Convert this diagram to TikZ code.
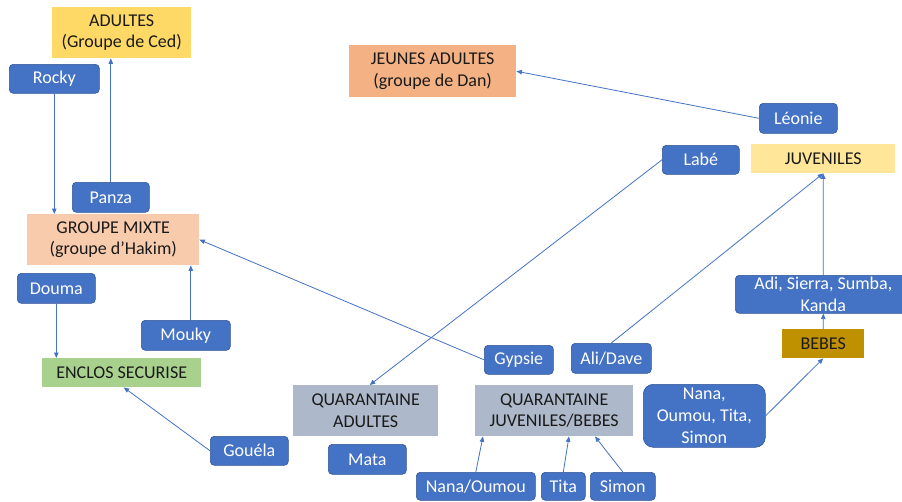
\documentclass[tikz,border=0pt]{standalone}
\usepackage{fontspec}
\setmainfont{Carlito}
\usetikzlibrary{arrows.meta,calc}
\definecolor{cblue}{HTML}{4472C4}
\definecolor{cblueedge}{HTML}{2F5597}
\definecolor{cadultes}{HTML}{FFD966}
\definecolor{cmixte}{HTML}{F8CBAD}
\definecolor{cjeunes}{HTML}{F4B183}
\definecolor{cenclos}{HTML}{A9D18E}
\definecolor{cjuv}{HTML}{FFE699}
\definecolor{cbebes}{HTML}{BF9000}
\definecolor{cquar}{HTML}{ADB9CA}
\definecolor{ctext}{HTML}{1A1A1A}
\tikzset{
  base/.style={anchor=north west, inner sep=0pt, align=center,
    font=\fontsize{18}{21.6}\selectfont},
  animal/.style={base, fill=cblue, draw=cblueedge, line width=0.6pt,
    rounded corners=4pt, text=white},
  group/.style={base, fill=#1, text=ctext},
  link/.style={draw=cblue, line width=0.8pt, -{Triangle[length=5.5pt,width=4.5pt]}}
}
\begin{document}
\begin{tikzpicture}[x=1pt,y=-1pt]
\useasboundingbox[fill=white] (0,0) rectangle (902,501);
% groups
\node[group=cadultes, minimum width=139, minimum height=51] (adultes) at (52,7) {ADULTES\\(Groupe de Ced)};
\node[group=cmixte, minimum width=172, minimum height=51] (mixte) at (27,214) {GROUPE MIXTE\\(groupe d’Hakim)};
\node[group=cenclos, minimum width=159, minimum height=29] (enclos) at (42,358) {ENCLOS SECURISE};
\node[group=cjeunes, minimum width=167, minimum height=52] (jeunes) at (349,45) {JEUNES ADULTES\\(groupe de Dan)};
\node[group=cjuv, minimum width=144, minimum height=29] (juv) at (751,144) {JUVENILES};
\node[group=cbebes, minimum width=82, minimum height=29] (bebes) at (782,329) {BEBES};
\node[group=cquar, minimum width=145, minimum height=51] (qa) at (293,385) {QUARANTAINE\\ADULTES};
\node[group=cquar, minimum width=158, minimum height=51] (qj) at (475,385) {QUARANTAINE\\JUVENILES/BEBES};
% animals
\node[animal, minimum width=90, minimum height=29] (rocky) at (9,64) {Rocky};
\node[animal, minimum width=77, minimum height=30] (panza) at (72,182) {Panza};
\node[animal, minimum width=78, minimum height=30] (douma) at (17,273) {Douma};
\node[animal, minimum width=89, minimum height=30] (mouky) at (141,320) {Mouky};
\node[animal, minimum width=78, minimum height=29] (gouela) at (210,436) {Gouéla};
\node[animal, minimum width=78, minimum height=30] (leonie) at (759,103) {Léonie};
\node[animal, minimum width=77, minimum height=29] (labe) at (662,145) {Labé};
\node[animal, minimum width=176, minimum height=38] (adi) at (735,275) {Adi, Sierra, Sumba,\\Kanda};
\node[animal, rounded corners=10pt, minimum width=122, minimum height=63] (nanabig) at (643,384) {Nana,\\Oumou, Tita,\\Simon};
\node[animal, minimum width=69, minimum height=29] (gypsie) at (484,345) {Gypsie};
\node[animal, minimum width=80, minimum height=30] (alidave) at (571,343) {Ali/Dave};
\node[animal, minimum width=78, minimum height=30] (mata) at (328,444) {Mata};
\node[animal, minimum width=119, minimum height=28] (nanaoumou) at (416,472) {Nana/Oumou};
\node[animal, minimum width=44, minimum height=28] (tita) at (541,472) {Tita};
\node[animal, minimum width=65, minimum height=28] (simon) at (590,472) {Simon};
% connectors
\draw[link] (rocky.south) -- (rocky.south |- mixte.north);
\draw[link] (panza.north) -- (panza.north |- adultes.south);
\draw[link] ([xshift=5pt]mouky.north) -- ([xshift=5pt]mouky.north |- mixte.south);
\draw[link] (douma.south) -- (douma.south |- enclos.north);
\draw[link] (gypsie.west) -- (mixte.east);
\draw[link] (gouela.west) -- ([xshift=2pt]enclos.south);
\draw[link] (leonie.west) -- (jeunes.east);
\draw[link] (labe.west) -- ([xshift=4pt]qa.north);
\draw[link] (alidave.north) -- (juv.south);
\draw[link] (adi.north) -- (juv.south);
\draw[link] (bebes.north) -- (adi.south);
\draw[link] (nanabig.east) -- (bebes.south);
\draw[link] (nanaoumou.north) -- ([xshift=8pt]qj.south west);
\draw[link] (tita.north) -- ([xshift=94pt]qj.south west);
\draw[link] (simon.north) -- ([xshift=120pt]qj.south west);
\end{tikzpicture}
\end{document}
